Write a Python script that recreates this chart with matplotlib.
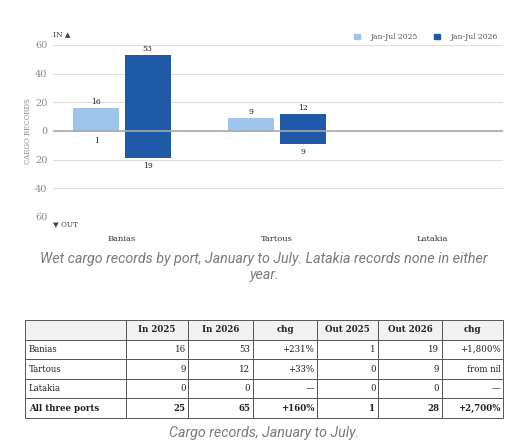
import matplotlib
matplotlib.use("Agg")
import matplotlib.pyplot as plt
import numpy as np

ports = ["Banias", "Tartous", "Latakia"]
in_2025 = [16, 9, 0]
in_2026 = [53, 12, 0]
out_2025 = [1, 0, 0]
out_2026 = [19, 9, 0]
y_ticks = [-60, -40, -20, 0, 20, 40, 60]

table_cols = ["", "In 2025", "In 2026", "chg", "Out 2025", "Out 2026", "chg"]
table_rows = [
    ["Banias", "16", "53", "+231%", "1", "19", "+1,800%"],
    ["Tartous", "9", "12", "+33%", "0", "9", "from nil"],
    ["Latakia", "0", "0", "\u2014", "0", "0", "\u2014"],
    ["All three ports", "25", "65", "+160%", "1", "28", "+2,700%"],
]

light = "#9fc5ec"
dark = "#1f5aa8"
grey_txt = "#7a7a7a"
serif = "DejaVu Serif"

W, H = 527, 447
fig = plt.figure(figsize=(W / 100, H / 100), dpi=100)


def box(x0, y0, x1, y1):
    return [x0 / W, 1 - y1 / H, (x1 - x0) / W, (y1 - y0) / H]


ax = fig.add_axes(box(53, 45, 503, 217))
x = np.arange(len(ports))
bw = 0.297
off = 0.166

ax.bar(x - off, in_2025, bw, color=light, zorder=3)
ax.bar(x - off, [-v for v in out_2025], bw, color=light, zorder=3)
ax.bar(x + off, in_2026, bw, color=dark, zorder=3)
ax.bar(x + off, [-v for v in out_2026], bw, color=dark, zorder=3)

for xs, ins, outs in [(x - off, in_2025, out_2025), (x + off, in_2026, out_2026)]:
    for xi, vi, vo in zip(xs, ins, outs):
        if vi:
            ax.annotate(str(vi), (xi, vi), xytext=(0, 1.5), textcoords="offset points",
                        ha="center", va="bottom", fontsize=5.5, family=serif, color="#222222")
        if vo:
            ax.annotate(str(vo), (xi, -vo), xytext=(0, -3), textcoords="offset points",
                        ha="center", va="top", fontsize=5.5, family=serif, color="#222222")

ax.set_xlim(-0.445, 2.458)
ax.set_ylim(-60, 60)
ax.set_yticks(y_ticks)
ax.set_yticklabels([str(abs(t)) for t in y_ticks], fontsize=7, family=serif, color="#888888")
ax.set_xticks(x)
ax.set_xticklabels(ports, fontsize=6, family=serif, color="#333333")
ax.tick_params(axis="x", length=0, pad=13)
ax.tick_params(axis="y", length=0, pad=4)
for s in ax.spines.values():
    s.set_visible(False)
ax.grid(axis="y", color="#dddddd", linewidth=0.8, zorder=0)
ax.axhline(0, color="#aaaaaa", linewidth=1.2, zorder=4)
ax.set_ylabel("CARGO RECORDS", fontsize=5, family=serif, color="#888888", labelpad=2)

ax.text(0.0, 1.04, "IN \u25b2", transform=ax.transAxes, fontsize=5.3, family=serif,
        color="#444444", ha="left", va="bottom")
ax.text(0.0, -0.02, "\u25bc OUT", transform=ax.transAxes, fontsize=5.3, family=serif,
        color="#444444", ha="left", va="top")

handles = [plt.Rectangle((0, 0), 1, 1, color=light), plt.Rectangle((0, 0), 1, 1, color=dark)]
ax.legend(handles, ["Jan-Jul 2025", "Jan-Jul 2026"], loc="lower right",
          bbox_to_anchor=(0.995, 1.005), ncol=2, frameon=False,
          prop={"family": serif, "size": 5.5}, handlelength=0.8, handleheight=0.8,
          columnspacing=2.0, handletextpad=1.4, borderaxespad=0, labelcolor="#555555")

fig.text(264 / W, 1 - 267 / H,
         "Wet cargo records by port, January to July. Latakia records none in either\nyear.",
         ha="center", va="center", fontsize=10.3, family="Roboto", style="italic",
         color=grey_txt, linespacing=1.15)

# table
tax = fig.add_axes(box(25, 320, 503, 418))
tax.axis("off")
edges = [25, 126, 188, 253, 317, 378, 442, 503]
widths = [(b - a) / (edges[-1] - edges[0]) for a, b in zip(edges[:-1], edges[1:])]
tbl = tax.table(cellText=table_rows, colLabels=table_cols, colWidths=widths,
                bbox=[0, 0, 1, 1], cellLoc="right")
tbl.auto_set_font_size(False)
for (r, c), cell in tbl.get_celld().items():
    cell.set_edgecolor("#555555")
    cell.set_linewidth(0.7)
    txt = cell.get_text()
    txt.set_fontsize(6.2)
    txt.set_family(serif)
    txt.set_color("#222222")
    cell.PAD = 0.04
    if c == 0:
        cell._loc = "left"
        txt.set_ha("left")
    if r == 0:
        cell.set_facecolor("#f2f2f2")
        txt.set_weight("bold")
    if r == len(table_rows):
        txt.set_weight("bold")

fig.text(264 / W, 1 - 433 / H, "Cargo records, January to July.", ha="center", va="center",
         fontsize=10.3, family="Roboto", style="italic", color=grey_txt)

fig.savefig("out.png", dpi=100)
